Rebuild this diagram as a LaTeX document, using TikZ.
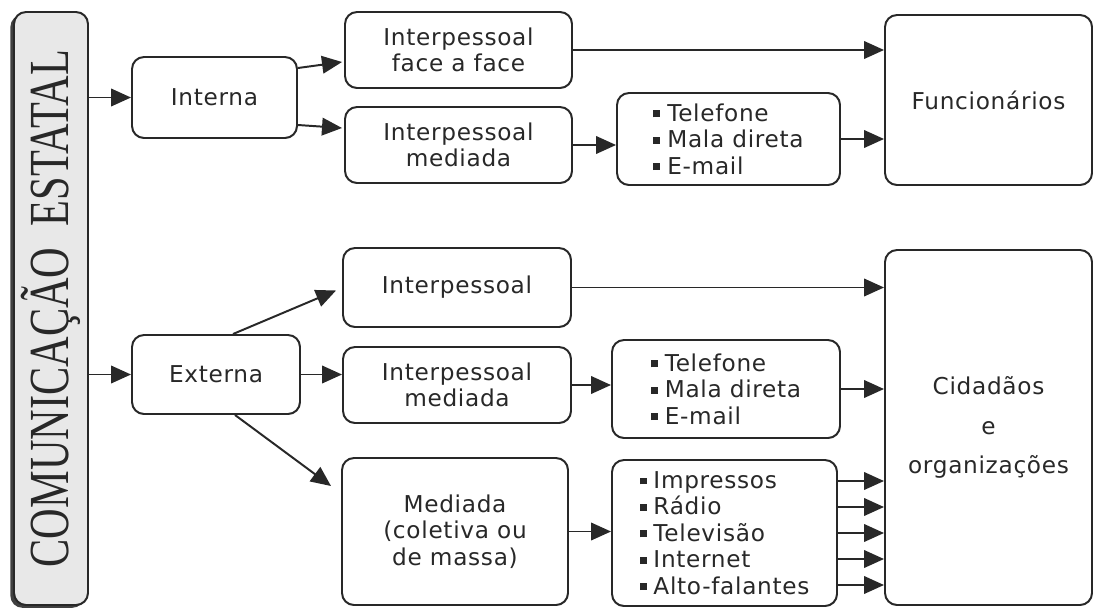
\documentclass[tikz,border=0pt]{standalone}
\usepackage{fontspec}
\usepackage{graphicx}
\setmainfont{DejaVu Sans}[LetterSpace=3]
\newfontfamily\titlefont{Liberation Serif}
\usepackage{tikz}
\usetikzlibrary{arrows.meta,calc,shadows}
\definecolor{InkGray}{RGB}{40, 40, 40}
\definecolor{PaperGray}{RGB}{232, 232, 232}
\newcommand{\bul}{\rule[0.17em]{0.3em}{0.3em}\hspace{0.3em}}

\begin{document}
\begin{tikzpicture}[x=0.025cm, y=-0.025cm,
      every node/.style={font=\fontsize{16.5}{18.8}\selectfont, align=center, text=InkGray},
      box/.style={rectangle, rounded corners=0.3cm, draw=InkGray, line width=1.4pt, inner sep=0pt},
      dims/.style 2 args={minimum width=#1*0.025cm, minimum height=#2*0.025cm},
      flow/.style={-{Triangle[length=0.5cm, width=0.44cm]}, line width=1.4pt, draw=InkGray}
    ]
      \useasboundingbox (0,0) rectangle (1105,612);

      % Main block (rotated: its south anchor is the right side)
      \node[box, rotate=90, dims={593}{74}, fill=PaperGray,
            drop shadow={shadow xshift=-0.09cm, shadow yshift=-0.07cm, fill=black!75, opacity=1}]
            (est) at (51,308.5) {\scalebox{0.86}[1.15]{\titlefont\fontsize{35}{35}\selectfont COMUNICAÇÃO\ \ ESTATAL}};

      % Row 1
      \node[box, dims={165}{81}] (interna) at (214.5,97.5) {Interna};
      \node[box, dims={227}{76}] (face) at (458.5,50) {Interpessoal\\face a face};
      \node[box, dims={227}{76}] (medI) at (458.5,145) {Interpessoal\\mediada};
      \node[box, dims={223}{92}, align=left] (telI) at (728.5,139) {\bul Telefone\\\bul Mala direta\\\bul E-mail};
      \node[box, dims={207}{170}] (func) at (988.5,100) {Funcionários};

      % Row 2
      \node[box, dims={168}{79}] (externa) at (216,374.5) {Externa};
      \node[box, dims={228}{79}] (interp) at (457,287.5) {Interpessoal};
      \node[box, dims={228}{76}] (medE) at (457,385) {Interpessoal\\mediada};
      \node[box, dims={228}{98}, align=left] (telE) at (726,389) {\bul Telefone\\\bul Mala direta\\\bul E-mail};
      \node[box, dims={226}{147}] (mediada) at (455,531.5) {Mediada\\(coletiva ou\\de massa)};
      \node[box, dims={225}{146}, align=left] (midia) at (724.5,533)
            {\bul Impressos\\\bul Rádio\\\bul Televisão\\\bul Internet\\\bul Alto-falantes};
      \node[box, dims={207}{355}, font=\fontsize{16.5}{28}\selectfont] (cid) at (988.5,427.5) {Cidadãos\\e\\organizações};

      % Connectors from the main block
      \draw[flow] (est.south |- interna) -- (interna.west);
      \draw[flow] (est.south |- externa) -- (externa.west);

      % Connectors Row 1
      \draw[flow] ($(interna.east)+(0,-29.5)$) -- ($(face.west)+(-2,12)$);
      \draw[flow] ($(interna.east)+(0,27.5)$) -- ($(medI.west)+(-2,-17)$);
      \draw[flow] (face.east) -- (face.east -| func.west);
      \draw[flow] (medI.east) -- (medI.east -| telI.west);
      \draw[flow] (telI.east) -- (telI.east -| func.west);

      % Connectors Row 2
      \draw[flow] ($(externa.north)+(17,0)$) -- ($(interp.west)+(-6,3)$);
      \draw[flow] (externa.east) -- (externa.east -| medE.west);
      \draw[flow] ($(externa.south)+(19,0)$) -- ($(mediada.north west)+(-10,29)$);
      \draw[flow] (interp.east) -- (interp.east -| cid.west);
      \draw[flow] (medE.east) -- (medE.east -| telE.west);
      \draw[flow] (telE.east) -- (telE.east -| cid.west);
      \draw[flow] (mediada.east) -- (mediada.east -| midia.west);
      \foreach \dy in {-52,-26,0,26,52}
        \draw[flow] ($(midia.east)+(0,\dy)$) -- ($(midia.east -| cid.west)+(0,\dy)$);
    \end{tikzpicture}
\end{document}
